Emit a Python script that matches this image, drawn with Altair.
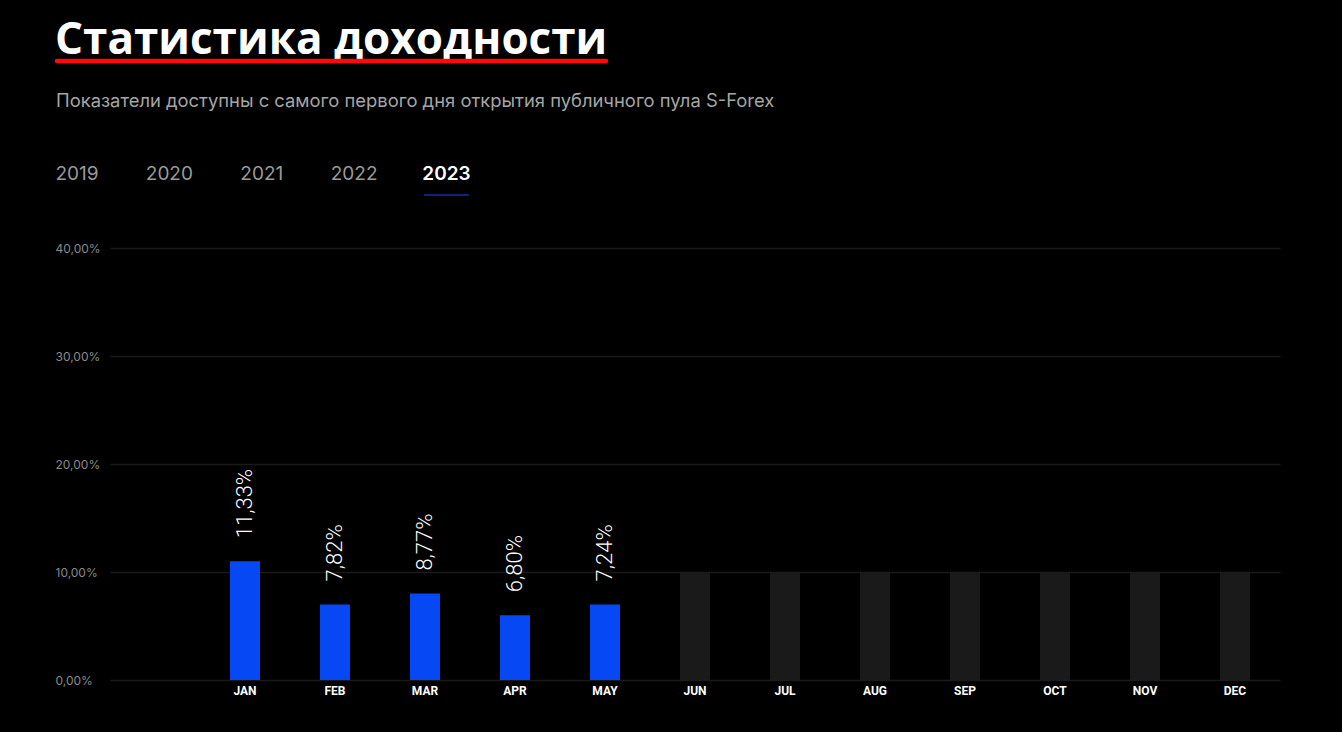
import altair as alt
import pandas as pd

# ---- data ----
title_text = "Статистика доходности"
subtitle_text = "Показатели доступны с самого первого дня открытия публичного пула S-Forex"
years = ["2019", "2020", "2021", "2022", "2023"]
active_year = "2023"
months = ["JAN", "FEB", "MAR", "APR", "MAY", "JUN", "JUL", "AUG", "SEP", "OCT", "NOV", "DEC"]
bar_heights = [11, 7, 8, 6, 7]                  # drawn bar heights (%)
yield_labels = ["11,33%", "7,82%", "8,77%", "6,80%", "7,24%"]
placeholder_level = [10, 10, 10, 10, 10, 10, 10]  # future months
y_ticks = [0, 10, 20, 30, 40]

n_act = len(bar_heights)
df = pd.DataFrame({
    "month": months,
    "value": bar_heights + placeholder_level,
    "status": ["actual"] * n_act + ["pending"] * (len(months) - n_act),
    "label": yield_labels + [""] * (len(months) - n_act),
})
df_years = pd.DataFrame({"year": years, "active": [y == active_year for y in years]})

W, H = 1170, 432
x_domain = [" "] + months

x_scale = alt.Scale(domain=x_domain, paddingInner=0, paddingOuter=0)
y_scale = alt.Scale(domain=[0, 40], nice=False)

bars = alt.Chart(df).mark_bar(width=30).encode(
    x=alt.X("month:N", scale=x_scale, sort=x_domain,
            axis=alt.Axis(title=None, labelAngle=0, ticks=False, domain=False, grid=False,
                          labelColor="#ffffff", labelFont="Roboto", labelFontWeight="bold",
                          labelFontSize=12, labelPadding=5)),
    y=alt.Y("value:Q", scale=y_scale,
            axis=alt.Axis(title=None, values=y_ticks, grid=True, gridColor="#1a1a1a", gridWidth=1.5,
                          domain=False, ticks=False, labelAlign="left", labelPadding=55,
                          labelColor="#8a8a8a", labelFont="Inter", labelFontSize=12,
                          labelBaseline="middle",
                          labelExpr="replace(format(datum.value, '.2f'), '.', ',') + '%'")),
    color=alt.Color("status:N", scale=alt.Scale(domain=["actual", "pending"],
                                                range=["#0748F5", "#1a1a1a"]), legend=None),
)

labels = alt.Chart(df).transform_filter(alt.datum.status == "actual").mark_text(
    angle=270, align="left", baseline="middle", dx=23, color="#ffffff",
    font="Roboto", fontWeight=300, fontSize=22,
).encode(
    x=alt.X("month:N", scale=x_scale, sort=x_domain, axis=None),
    y=alt.Y("value:Q", scale=y_scale),
    text="label:N",
)

year_scale = alt.Scale(type="point", domain=years, range=[-33, 336.5], padding=0)
year_text = alt.Chart(df_years).transform_filter(~alt.datum.active).mark_text(
    font="Inter", fontSize=19, baseline="alphabetic", align="center", color="#9a9a9a",
).encode(
    x=alt.X("year:N", scale=year_scale, axis=None, sort=years),
    y=alt.value(-68),
    text="year:N",
)
year_active = alt.Chart(df_years).transform_filter(alt.datum.active).mark_text(
    font="Inter", fontSize=19, fontWeight=600, baseline="alphabetic", align="center",
    color="#ffffff",
).encode(
    x=alt.X("year:N", scale=year_scale, axis=None, sort=years),
    y=alt.value(-68),
    text="year:N",
)
year_line = alt.Chart(df_years).transform_filter(alt.datum.active).mark_tick(
    orient="horizontal", size=45, thickness=1.5, color="#2a40d8",
).encode(
    x=alt.X("year:N", scale=year_scale, axis=None, sort=years),
    y=alt.value(-53),
)

title = alt.Chart(pd.DataFrame({"t": [title_text]})).mark_text(
    align="left", baseline="alphabetic", font="Open Sans", fontWeight="bold",
    fontSize=44, color="#ffffff",
).encode(x=alt.value(-55), y=alt.value(-194), text="t:N")

underline = alt.Chart(pd.DataFrame({"t": [title_text]})).mark_rule(
    color="#ff0a0a", strokeWidth=4.5, strokeCap="round",
).encode(x=alt.value(-53), x2=alt.value(496), y=alt.value(-187))

subtitle = alt.Chart(pd.DataFrame({"t": [subtitle_text]})).mark_text(
    align="left", baseline="alphabetic", font="Inter", fontSize=18.4, color="#a5a5a5",
).encode(x=alt.value(-54), y=alt.value(-141), text="t:N")

chart = alt.layer(
    bars, labels, year_text, year_active, year_line, title, underline, subtitle
).resolve_scale(x="independent").properties(
    width=W, height=H,
    background="#000000",
    padding={"left": 110, "top": 248, "right": 62, "bottom": 52},
    autosize=alt.AutoSizeParams(type="none"),
).configure_view(stroke=None)

chart.save("out.html", embed_options={"renderer": "svg", "actions": False})
